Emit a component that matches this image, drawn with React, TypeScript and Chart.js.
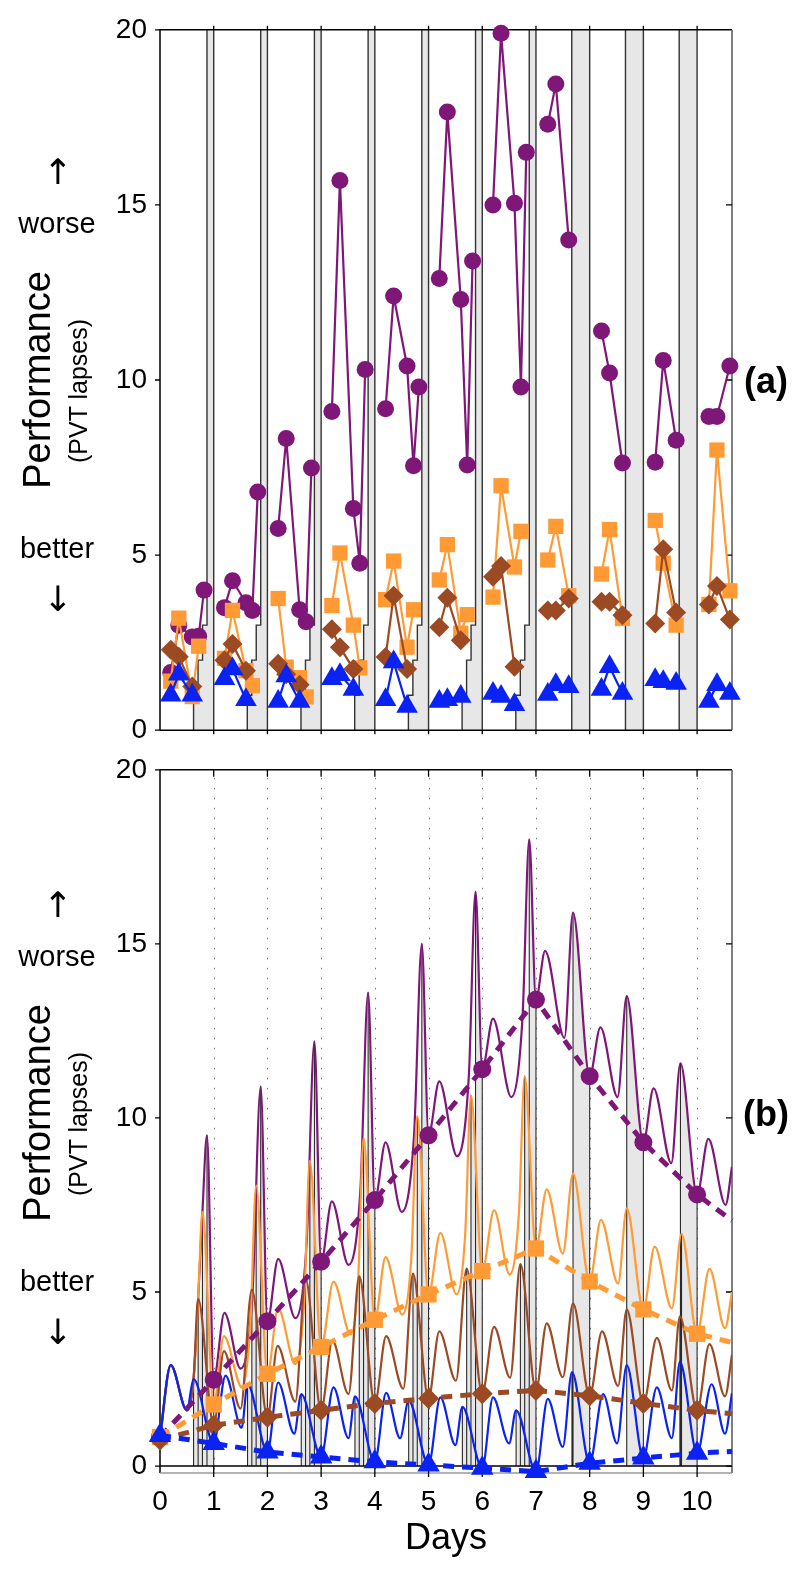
import React, { useEffect, useRef } from 'react';
import { Chart, registerables } from 'chart.js';

Chart.register(...registerables);

const FONT = "'Liberation Sans', Arial, Helvetica, sans-serif";
const ARROW_FONT = "'DejaVu Sans', 'Liberation Sans', sans-serif";

// ---------------- data ----------------
const dayTicks = [0, 1, 2, 3, 4, 5, 6, 7, 8, 9, 10];
const yTicks = [0, 5, 10, 15, 20];
const xMax = 10.65;

// groups: 3 h, 5 h, 7 h, 9 h time in bed (purple, orange, brown, blue)
const restrictionNights = [1, 2, 3, 4, 5, 6, 7];
const recoveryNights = [8, 9, 10];
const groupSleepHours = [3, 5, 7, 9];
const groupBandTop = [20, 3, 2, 1];
const recoverySleepHours = 8;

// panel (a): measured PVT lapses per test session
const restrictionSessionOffsets = [0.2, 0.35, 0.6, 0.72, 0.82];
const recoverySessionOffsets = [0.22, 0.37, 0.61];

const purpleLapses = [
  [1.65, 3.0, 2.66, 2.68, 4.0],
  [3.5, 4.27, 3.64, 3.42, 6.8],
  [5.76, 8.33, 3.44, 3.1, 7.49],
  [9.1, 15.7, 6.33, 4.77, 10.3],
  [9.18, 12.4, 10.4, 7.55, 9.8],
  [12.9, 17.65, 12.3, 7.57, 13.4],
  [15.0, 19.9, 15.05, 9.8, 16.5],
  [17.3, 18.45, 14.0],
  [11.4, 10.2, 7.63],
  [7.65, 10.56, 8.28],
  [8.96, 8.96, 10.4],
];
const orangeLapses = [
  [1.4, 3.2, 0.96, 2.4],
  [2.05, 3.42, 1.7, 1.27],
  [3.76, 1.8, 1.5, 0.95],
  [3.56, 5.06, 3.0, 1.78],
  [3.73, 4.83, 2.37, 3.44],
  [4.29, 5.3, 2.77, 3.3],
  [3.8, 6.98, 4.66, 5.68],
  [4.86, 5.82, 3.84],
  [4.46, 5.73, 3.19],
  [5.99, 4.77, 3.0],
  [3.59, 8.0, 3.98],
];
const brownLapses = [
  [2.3, 2.1, 1.25],
  [2.0, 2.46, 1.7],
  [1.9, 1.6, 1.3],
  [2.88, 2.37, 1.75],
  [2.09, 3.84, 1.75],
  [2.94, 3.78, 2.57],
  [4.38, 4.69, 1.81],
  [3.42, 3.42, 3.76],
  [3.67, 3.67, 3.28],
  [3.05, 5.17, 3.36],
  [3.59, 4.12, 3.16],
];
const blueLapses = [
  [1.0, 1.6, 1.0],
  [1.47, 1.75, 0.87],
  [0.82, 1.55, 0.82],
  [1.47, 1.58, 1.16],
  [0.87, 1.95, 0.68],
  [0.82, 0.87, 0.96],
  [1.05, 0.96, 0.73],
  [1.02, 1.3, 1.24],
  [1.16, 1.81, 1.05],
  [1.44, 1.38, 1.33],
  [0.82, 1.3, 1.05],
];

// panel (b): model predictions (continuous) [day, lapses]
const purpleModel = [
  [0, 0.83], [0.2, 2.9], [0.5, 1.6], [0.625, 2.5], [0.71, 4.8], [0.79, 7.3], [0.875, 9.5],
  [1, 2.48], [1.2, 4.4], [1.5, 2.8], [1.72, 4.9], [1.875, 10.9],
  [2, 4.16], [2.2, 5.95], [2.52, 4.25], [2.73, 6.4], [2.875, 12.2],
  [3, 5.87], [3.2, 7.6], [3.51, 5.78], [3.73, 7.9], [3.875, 13.6],
  [4, 7.64], [4.2, 9.3], [4.5, 7.3], [4.73, 9.5], [4.875, 15.0],
  [5, 9.5], [5.2, 11.05], [5.53, 8.9], [5.75, 11.2], [5.875, 16.5],
  [6, 11.4], [6.2, 12.85], [6.54, 10.6], [6.75, 12.9], [6.875, 18.0],
  [7, 13.4], [7.17, 14.8], [7.53, 12.3], [7.69, 15.9],
  [8, 11.2], [8.2, 12.6], [8.52, 10.6], [8.69, 13.5],
  [9, 9.3], [9.19, 10.85], [9.52, 8.7], [9.69, 11.57],
  [10, 7.8], [10.21, 9.4], [10.53, 7.5], [10.65, 8.6],
];
const orangeModel = [
  [0, 0.83], [0.2, 2.9], [0.5, 1.6], [0.625, 2.5], [0.71, 4.8], [0.79, 7.3],
  [1, 1.77], [1.19, 3.73], [1.53, 2.25], [1.68, 4.0], [1.79, 8.06],
  [2, 2.65], [2.2, 4.53], [2.52, 2.93], [2.68, 4.6], [2.79, 8.77],
  [3, 3.42], [3.23, 5.3], [3.55, 3.78], [3.69, 5.4], [3.79, 9.43],
  [4, 4.2], [4.2, 6.0], [4.51, 4.35], [4.68, 6.0], [4.79, 10.05],
  [5, 4.93], [5.22, 6.7], [5.52, 4.93], [5.68, 6.6], [5.79, 10.65],
  [6, 5.6], [6.22, 7.35], [6.51, 5.5], [6.68, 7.2], [6.79, 11.2],
  [7, 6.25], [7.2, 7.95], [7.5, 6.1], [7.69, 8.4],
  [8, 5.3], [8.21, 7.07], [8.53, 5.24], [8.69, 7.4],
  [9, 4.5], [9.21, 6.3], [9.53, 4.53], [9.71, 6.67],
  [10, 3.8], [10.23, 5.67], [10.52, 3.96], [10.65, 5.0],
];
const brownModel = [
  [0, 0.75], [0.2, 2.9], [0.5, 1.6], [0.625, 2.5], [0.71, 4.8],
  [1, 1.17], [1.19, 3.3], [1.5, 1.65], [1.71, 5.07],
  [2, 1.4], [2.19, 3.45], [2.52, 1.85], [2.71, 5.38],
  [3, 1.6], [3.21, 3.6], [3.51, 2.07], [3.71, 5.45],
  [4, 1.8], [4.21, 3.73], [4.53, 2.22], [4.71, 5.53],
  [5, 1.94], [5.2, 3.87], [5.51, 2.45], [5.71, 5.67],
  [6, 2.08], [6.22, 4.0], [6.52, 2.54], [6.71, 5.8],
  [7, 2.17], [7.2, 4.1], [7.5, 2.55], [7.69, 4.67],
  [8, 2.02], [8.23, 3.87], [8.53, 2.3], [8.69, 4.5],
  [9, 1.8], [9.25, 3.68], [9.53, 2.17], [9.68, 4.3],
  [10, 1.6], [10.23, 3.5], [10.52, 2.0], [10.65, 3.2],
];
const blueModel = [
  [0, 0.88], [0.2, 2.9], [0.5, 1.6], [0.625, 2.5],
  [1, 0.65], [1.22, 2.6], [1.52, 1.1], [1.63, 2.35],
  [2, 0.4], [2.2, 2.4], [2.5, 0.93], [2.63, 2.07],
  [3, 0.26], [3.23, 2.26], [3.51, 0.8], [3.63, 2.0],
  [4, 0.12], [4.21, 2.1], [4.47, 0.8], [4.63, 1.88],
  [5, 0.03], [5.22, 1.97], [5.5, 0.6], [5.63, 1.7],
  [6, -0.06], [6.2, 1.97], [6.5, 0.65], [6.63, 1.6],
  [7, -0.16], [7.22, 1.93], [7.5, 0.55], [7.67, 2.7],
  [8, 0.08], [8.25, 2.07], [8.51, 0.65], [8.69, 2.9],
  [9, 0.23], [9.25, 2.26], [9.53, 0.8], [9.68, 3.0],
  [10, 0.37], [10.27, 2.35], [10.52, 0.93], [10.65, 2.1],
];

// panel (b): daily (wake-time) predictions, dashed
const dailyDays = [0, 1, 2, 3, 4, 5, 6, 7, 8, 9, 10, 10.65];
const purpleDaily = [0.83, 2.48, 4.16, 5.87, 7.64, 9.5, 11.4, 13.4, 11.2, 9.3, 7.8, 7.05];
const orangeDaily = [0.83, 1.77, 2.65, 3.42, 4.2, 4.93, 5.6, 6.25, 5.3, 4.5, 3.8, 3.55];
const brownDaily = [0.75, 1.17, 1.4, 1.6, 1.8, 1.94, 2.08, 2.17, 2.02, 1.8, 1.6, 1.5];
const blueDaily = [0.88, 0.65, 0.4, 0.26, 0.12, 0.03, -0.06, -0.16, 0.08, 0.23, 0.37, 0.42];

// ---------------- styles ----------------
const C = {
  purple: '#7f1778',
  orange: '#ff9a35',
  brown: '#9b4a24',
  blue: '#0a22f2',
  gray: '#e7e7e7',
  edge: '#2a2a2a',
};
const groupColors = [C.purple, C.orange, C.brown, C.blue];
const groupStyles = ['circle', 'rect', 'rectRot', 'triangle'];
const topRadii = [8.5, 10.8, 10, 12.5];
const botRadii = [9, 11.5, 10.5, 13];

function sessionPoints(lapses: number[][]) {
  const pts: any[] = [];
  lapses.forEach((vals, day) => {
    const offs = day <= 6 ? restrictionSessionOffsets : recoverySessionOffsets;
    vals.forEach((v, k) => pts.push({ x: day + offs[k], y: v }));
    pts.push({ x: day + 0.95, y: null });
  });
  return pts;
}

function frame(ctx: CanvasRenderingContext2D, a: any, x: any, y: any, opt: any) {
  ctx.save();
  ctx.strokeStyle = '#000';
  ctx.lineWidth = 1.5;
  ctx.beginPath();
  ctx.moveTo(a.left, a.bottom);
  ctx.lineTo(a.left, a.top);
  ctx.lineTo(a.right, a.top);
  ctx.stroke();
  ctx.strokeStyle = '#555';
  ctx.beginPath();
  ctx.moveTo(a.right, a.top);
  ctx.lineTo(a.right, a.bottom);
  ctx.stroke();
  ctx.strokeStyle = opt.bottomColor;
  ctx.beginPath();
  ctx.moveTo(a.left, a.bottom);
  ctx.lineTo(a.right, a.bottom);
  ctx.stroke();
  ctx.strokeStyle = '#000';
  ctx.lineWidth = 1.3;
  ctx.beginPath();
  yTicks.forEach((v) => {
    const py = y.getPixelForValue(v);
    ctx.moveTo(a.left - 5, py);
    ctx.lineTo(a.left, py);
  });
  opt.rightTicks.forEach((v: number) => {
    const py = y.getPixelForValue(v);
    ctx.moveTo(a.right - 6, py);
    ctx.lineTo(a.right, py);
  });
  dayTicks.forEach((d) => {
    if (d === 0) return;
    const px = x.getPixelForValue(d);
    ctx.moveTo(px, a.top + opt.topTick[0]);
    ctx.lineTo(px, a.top + opt.topTick[1]);
    ctx.moveTo(px, opt.bottomTickFrom);
    ctx.lineTo(px, opt.bottomTickTo);
  });
  ctx.stroke();
  ctx.restore();
}

const topPanelPlugin = {
  id: 'topPanel',
  beforeDatasetsDraw(chart: any) {
    const { ctx, chartArea: a } = chart;
    const x = chart.scales.x;
    const y = chart.scales.y;
    const y0 = y.getPixelForValue(0);
    ctx.save();
    ctx.fillStyle = C.gray;
    ctx.strokeStyle = '#333';
    ctx.lineWidth = 1.4;
    const order = groupSleepHours.map((h, g) => g).sort((p, q) => groupSleepHours[q] - groupSleepHours[p]);
    restrictionNights.forEach((n) => {
      const xn = x.getPixelForValue(n);
      order.forEach((g) => {
        const x0 = x.getPixelForValue(n - groupSleepHours[g] / 24);
        const yt = y.getPixelForValue(groupBandTop[g]);
        ctx.fillRect(x0, yt, xn - x0, y0 - yt);
      });
      ctx.beginPath();
      let started = false;
      let prevTop = 0;
      order.forEach((g) => {
        const x0 = x.getPixelForValue(n - groupSleepHours[g] / 24);
        if (!started) {
          ctx.moveTo(x0, y0);
          started = true;
        } else {
          ctx.lineTo(x0, y.getPixelForValue(prevTop));
        }
        ctx.lineTo(x0, y.getPixelForValue(groupBandTop[g]));
        prevTop = groupBandTop[g];
      });
      ctx.moveTo(xn, a.top);
      ctx.lineTo(xn, a.bottom);
      ctx.stroke();
    });
    recoveryNights.forEach((n) => {
      const xn = x.getPixelForValue(n);
      const x0 = x.getPixelForValue(n - recoverySleepHours / 24);
      ctx.fillRect(x0, a.top, xn - x0, a.bottom - a.top);
      ctx.beginPath();
      ctx.moveTo(x0, a.top);
      ctx.lineTo(x0, a.bottom);
      ctx.moveTo(xn, a.top);
      ctx.lineTo(xn, a.bottom);
      ctx.stroke();
    });
    ctx.restore();
    frame(ctx, a, x, y, {
      bottomColor: '#000',
      rightTicks: [5, 10, 15],
      topTick: [-4, 0],
      bottomTickFrom: a.bottom,
      bottomTickTo: a.bottom + 4,
    });
  },
};

const models = [purpleModel, orangeModel, brownModel, blueModel];

const bottomPanelPlugin = {
  id: 'bottomPanel',
  beforeDatasetsDraw(chart: any) {
    const { ctx, chartArea: a } = chart;
    const x = chart.scales.x;
    const y = chart.scales.y;
    const y0 = y.getPixelForValue(0);
    ctx.save();
    // dotted day lines
    ctx.strokeStyle = '#777';
    ctx.lineWidth = 1;
    ctx.setLineDash([1.5, 8.5]);
    ctx.beginPath();
    dayTicks.forEach((d) => {
      if (d === 0) return;
      const px = Math.round(x.getPixelForValue(d)) + 0.5;
      ctx.moveTo(px, a.top + 8);
      ctx.lineTo(px, a.bottom);
    });
    ctx.stroke();
    ctx.setLineDash([]);
    // gray sleep areas under each curve
    const nights = [...restrictionNights, ...recoveryNights];
    const segs: any[] = [];
    models.forEach((model, g) => {
      const meta = chart.getDatasetMeta(g);
      if (meta.dataset && meta.dataset.updateControlPoints) meta.dataset.updateControlPoints(a, 'x');
      const pts = meta.data;
      nights.forEach((n) => {
        const i = model.findIndex((p) => p[0] === n);
        if (i < 1) return;
        segs.push([pts[i - 1], pts[i]]);
      });
    });
    ctx.fillStyle = C.gray;
    segs.forEach(([p, q]) => {
      ctx.beginPath();
      ctx.moveTo(p.x, y0);
      ctx.lineTo(p.x, p.y);
      if (p.cp2x !== undefined && q.cp1x !== undefined) ctx.bezierCurveTo(p.cp2x, p.cp2y, q.cp1x, q.cp1y, q.x, q.y);
      else ctx.lineTo(q.x, q.y);
      ctx.lineTo(q.x, y0);
      ctx.closePath();
      ctx.fill();
    });
    ctx.strokeStyle = C.edge;
    ctx.lineWidth = 1.1;
    ctx.beginPath();
    segs.forEach(([p, q]) => {
      ctx.moveTo(p.x, y0);
      ctx.lineTo(p.x, p.y);
      ctx.moveTo(q.x, y0);
      ctx.lineTo(q.x, q.y);
    });
    ctx.stroke();
    // zero line
    ctx.strokeStyle = '#000';
    ctx.lineWidth = 1.5;
    ctx.beginPath();
    ctx.moveTo(a.left, y0);
    ctx.lineTo(a.right, y0);
    ctx.stroke();
    ctx.restore();
    frame(ctx, a, x, y, {
      bottomColor: '#999',
      rightTicks: [0, 5, 10, 15],
      topTick: [0, 7],
      bottomTickFrom: y0,
      bottomTickTo: y0 + 11,
    });
  },
};

const yAxisBase = (min: number) => ({
  type: 'linear' as const,
  min,
  max: 20,
  afterBuildTicks: (ax: any) => {
    ax.ticks = yTicks.map((v) => ({ value: v }));
  },
  afterFit: (ax: any) => {
    ax.width = 160;
  },
  grid: { display: false, drawTicks: false },
  border: { display: false },
  ticks: { padding: 13, color: '#000', font: { family: FONT, size: 28 } },
});

function TopChart() {
  const ref = useRef<HTMLCanvasElement>(null);
  useEffect(() => {
    const lapses = [purpleLapses, orangeLapses, brownLapses, blueLapses];
    const datasets = lapses.map((l, g) => ({
      data: sessionPoints(l),
      borderColor: groupColors[g],
      backgroundColor: groupColors[g],
      pointBackgroundColor: groupColors[g],
      pointBorderColor: groupColors[g],
      borderWidth: 2.2,
      pointStyle: groupStyles[g],
      pointRadius: topRadii[g],
      pointBorderWidth: 0,
      tension: 0,
      clip: false as any,
      order: 4 - g,
    }));
    const chart = new Chart(ref.current!, {
      type: 'line',
      data: { datasets: datasets as any },
      options: {
        animation: false,
        responsive: false,
        events: [],
        layout: { padding: { left: 0, right: 68, top: 26, bottom: 26 } },
        plugins: { legend: { display: false }, tooltip: { enabled: false } },
        scales: {
          x: { type: 'linear', min: 0, max: xMax, display: false },
          y: yAxisBase(0) as any,
        },
      },
      plugins: [topPanelPlugin],
    });
    return () => chart.destroy();
  }, []);
  return <canvas ref={ref} width={800} height={760} style={{ position: 'absolute', left: 0, top: 0, width: 800, height: 760 }} />;
}

function BottomChart() {
  const ref = useRef<HTMLCanvasElement>(null);
  useEffect(() => {
    const daily = [purpleDaily, orangeDaily, brownDaily, blueDaily];
    const curveSets = models.map((m, g) => ({
      data: m.map(([d, v]) => ({ x: d, y: v })),
      borderColor: groupColors[g],
      borderWidth: 2.2,
      pointRadius: 0,
      cubicInterpolationMode: 'monotone' as const,
      fill: false,
      order: 8 - g,
    }));
    const dailySets = daily.map((vals, g) => ({
      data: dailyDays.map((d, i) => ({ x: d, y: vals[i] })),
      borderColor: groupColors[g],
      backgroundColor: groupColors[g],
      pointBackgroundColor: groupColors[g],
      pointBorderColor: groupColors[g],
      borderWidth: 5,
      borderDash: [11, 8],
      pointStyle: groupStyles[g],
      pointRadius: dailyDays.map((d) => (d <= 10 ? botRadii[g] : 0)),
      pointBorderWidth: 0,
      tension: 0,
      clip: false as any,
      order: 4 - g,
    }));
    const chart = new Chart(ref.current!, {
      type: 'line',
      data: { datasets: [...curveSets, ...dailySets] as any },
      options: {
        animation: false,
        responsive: false,
        events: [],
        layout: { padding: { left: 0, right: 68, top: 24, bottom: 0 } },
        plugins: { legend: { display: false }, tooltip: { enabled: false } },
        scales: {
          x: {
            type: 'linear',
            min: 0,
            max: xMax,
            afterBuildTicks: (ax: any) => {
              ax.ticks = dayTicks.map((v) => ({ value: v }));
            },
            afterFit: (ax: any) => {
              ax.height = 97;
            },
            grid: { display: false, drawTicks: false },
            border: { display: false },
            ticks: { padding: 12, color: '#000', autoSkip: false, maxRotation: 0, font: { family: FONT, size: 28 } },
          },
          y: yAxisBase(-0.2) as any,
        },
      },
      plugins: [bottomPanelPlugin],
    });
    return () => chart.destroy();
  }, []);
  return <canvas ref={ref} width={800} height={830} style={{ position: 'absolute', left: 0, top: 740, width: 800, height: 830 }} />;
}

function Label(props: { text: string; cx: number; cy: number; size: number; rotate?: boolean; bold?: boolean; family?: string }) {
  const { text, cx, cy, size, rotate, bold, family } = props;
  return (
    <div
      style={{
        position: 'absolute',
        left: cx,
        top: cy,
        transform: `translate(-50%, -50%)${rotate ? ' rotate(-90deg)' : ''}`,
        fontFamily: family || FONT,
        fontSize: size,
        fontWeight: bold ? 'bold' : 'normal',
        lineHeight: 1,
        whiteSpace: 'nowrap',
        color: '#000',
      }}
    >
      {text}
    </div>
  );
}

function SideLabels({ dy, tag }: { dy: number; tag: string }) {
  return (
    <>
      <Label text="↑" cx={58} cy={172 + dy} size={35} family={ARROW_FONT} />
      <Label text="worse" cx={57} cy={223 + dy} size={29} />
      <Label text="Performance" cx={37} cy={380 + dy} size={38} rotate />
      <Label text="(PVT lapses)" cx={78} cy={391 + dy} size={25} rotate />
      <Label text="better" cx={57} cy={548 + dy} size={29} />
      <Label text="↓" cx={58} cy={599 + dy} size={35} family={ARROW_FONT} />
      <Label text={tag} cx={766} cy={381 + dy} size={36} bold />
    </>
  );
}

export default function App() {
  return (
    <div style={{ position: 'absolute', left: 0, top: 0, width: 800, height: 1570, background: '#fff', overflow: 'hidden' }}>
      <TopChart />
      <BottomChart />
      <SideLabels dy={0} tag="(a)" />
      <SideLabels dy={733} tag="(b)" />
      <Label text="Days" cx={446} cy={1537} size={36} />
    </div>
  );
}
